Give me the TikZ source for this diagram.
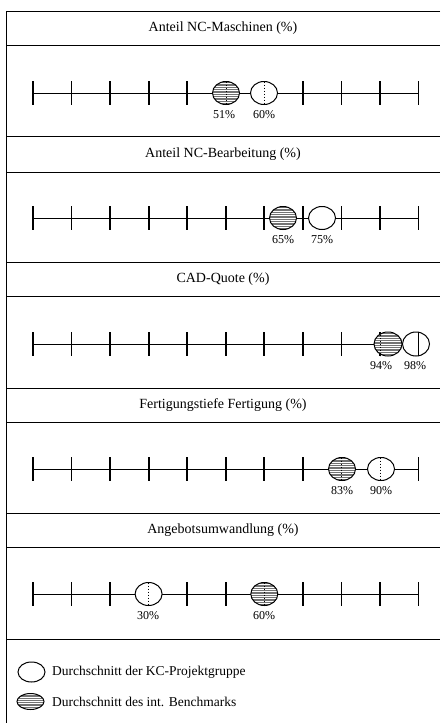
\documentclass[tikz,border=0pt]{standalone}
\usepackage{fontspec}
\setmainfont{Liberation Serif}
\begin{document}
\begin{tikzpicture}[x=1pt,y=-1pt,
  frameline/.style={line width=1pt,black},
  axisline/.style={line width=0.9pt},
  tickline/.style={line width=1.8pt},
  ttl/.style={font=\fontsize{14}{16}\selectfont, inner sep=0pt},
  lbl/.style={font=\fontsize{12}{14}\selectfont, inner sep=0pt},
  leg/.style={font=\fontsize{13.5}{16}\selectfont, inner sep=0pt, anchor=west},
  openell/.style={draw, line width=1pt, fill=white},
]
\useasboundingbox (0,0) rectangle (440,723);
\newcommand\hatchE[4]{%
  \begin{scope}
    \clip (#1,#2) ellipse [x radius=#3pt, y radius=#4pt];
    \fill[black!55] (#1-#3,#2-#4) rectangle (#1+#3,#2+#4);
    \foreach \k in {-6,...,6} {\draw[white, line width=0.8pt] (#1-#3,#2+\k*2.3) -- (#1+#3,#2+\k*2.3);}
  \end{scope}
  \draw[line width=1pt] (#1,#2) ellipse [x radius=#3pt, y radius=#4pt];}
\newcommand\axisrow[1]{%
  \draw[axisline] (33,#1) -- (418.5,#1);
  \foreach \i in {0,...,10} {\draw[tickline] (33+38.55*\i,#1-12) -- (33+38.55*\i,#1+12);}}
% frame
\draw[frameline] (440,11) -- (6,11) -- (6,723);
\foreach \yy in {45,136,172,262,296,388,422,513,547,639} {\draw[frameline] (6,\yy) -- (440,\yy);}
% titles
\node[ttl] (t1) at (223,28) {Anteil NC-Maschinen (\%)};
\node[ttl] (t2) at (223,154) {Anteil NC-Bearbeitung (\%)};
\node[ttl] (t3) at (223,279) {CAD-Quote (\%)};
\node[ttl] (t4) at (223,405) {Fertigungstiefe Fertigung (\%)};
\node[ttl] (t5) at (223,530) {Angebotsumwandlung (\%)};
% panel 1
\axisrow{93}
\hatchE{226}{93}{13.5}{11.5}
\draw[dotted, line width=1pt] (226,81.5) -- (226,104.5);
\draw[openell] (264,93) ellipse [x radius=13.5pt, y radius=11.5pt];
\draw[dotted, line width=1pt] (264,81.5) -- (264,104.5);
\node[lbl] (l1a) at (224,115) {51\%};
\node[lbl] (l1b) at (264,115) {60\%};
% panel 2
\axisrow{218}
\hatchE{283}{218}{13.5}{11.5}
\draw[openell] (322,218) ellipse [x radius=13.5pt, y radius=11.5pt];
\node[lbl] (l2a) at (283,240) {65\%};
\node[lbl] (l2b) at (322,240) {75\%};
% panel 3
\axisrow{344}
\hatchE{388}{344}{14}{12}
\draw[dotted, line width=1pt] (380,332) -- (380,356);
\draw[openell] (416,344) ellipse [x radius=13.5pt, y radius=12pt];
\draw[tickline] (418.5,332) -- (418.5,356);
\node[lbl] (l3a) at (381,366) {94\%};
\node[lbl] (l3b) at (415,366) {98\%};
% panel 4
\axisrow{469}
\hatchE{342}{469}{13.5}{11.5}
\draw[dotted, line width=1pt] (341.4,457.5) -- (341.4,480.5);
\draw[openell] (381,469) ellipse [x radius=13.5pt, y radius=11.5pt];
\draw[dotted, line width=1pt] (380,457.5) -- (380,480.5);
\node[lbl] (l4a) at (342,491) {83\%};
\node[lbl] (l4b) at (381,491) {90\%};
% panel 5
\axisrow{594}
\draw[openell] (148.6,594) ellipse [x radius=13.5pt, y radius=11.5pt];
\draw[dotted, line width=1pt] (148.6,582.5) -- (148.6,605.5);
\hatchE{264.3}{594}{13.5}{11.5}
\draw[dotted, line width=1pt] (264.3,582.5) -- (264.3,605.5);
\node[lbl] (l5a) at (148,616) {30\%};
\node[lbl] (l5b) at (264,616) {60\%};
% legend
\draw[openell] (31.5,672) ellipse [x radius=13.5pt, y radius=10pt];
\hatchE{30.5}{701.5}{13.5}{8}
\node[leg] (g1) at (52,672) {Durchschnitt der KC-Projektgruppe};
\node[leg] (g2) at (52,701.5) {Durchschnitt des int. Benchmarks};
\end{tikzpicture}
\end{document}
